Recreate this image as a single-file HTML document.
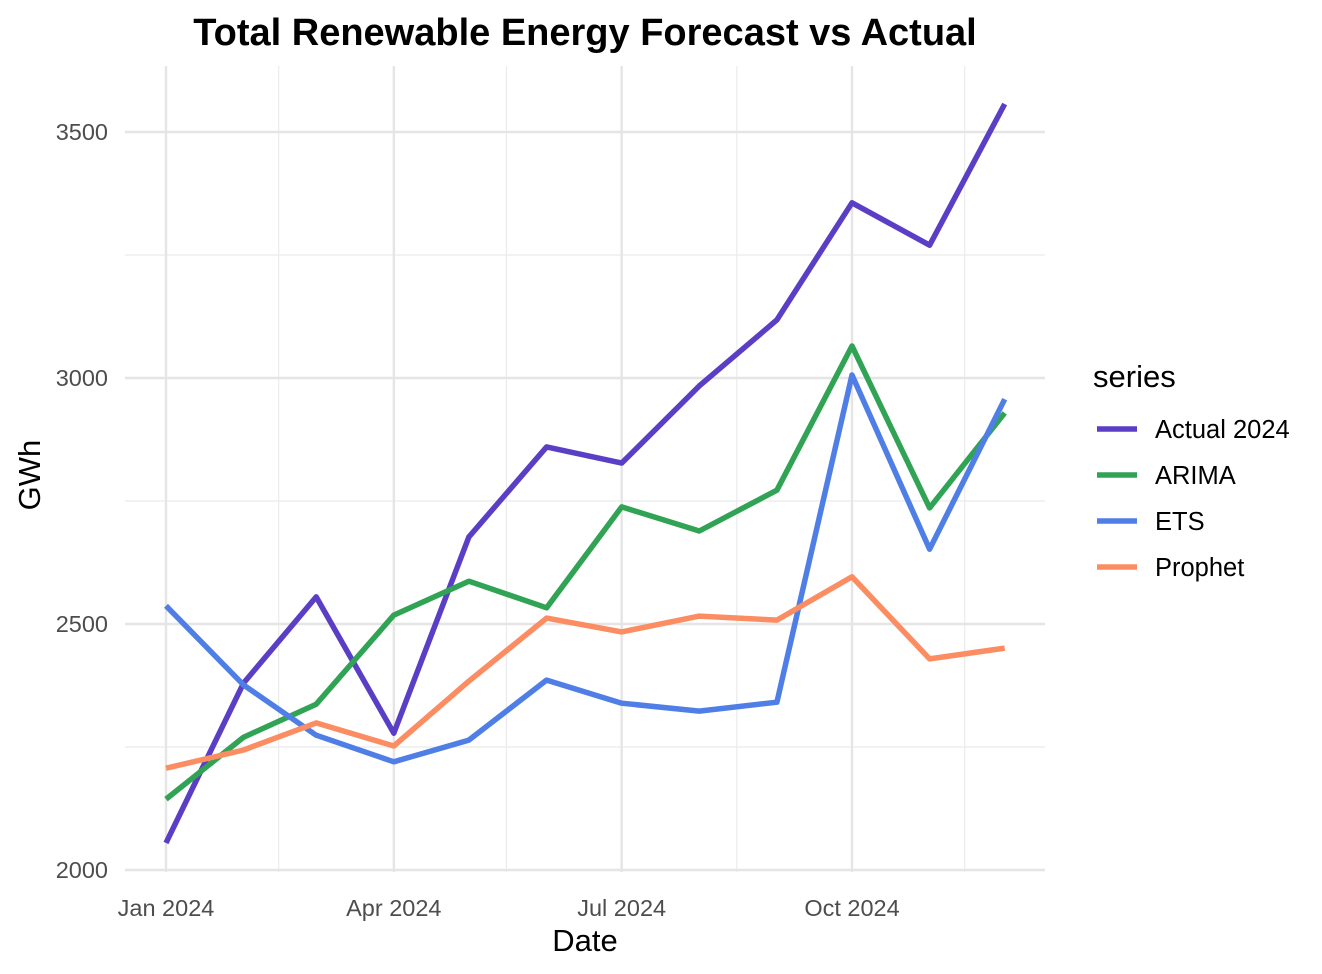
<!DOCTYPE html>
<html><head><meta charset="utf-8"><style>
body{margin:0;background:#fff;}
svg{display:block;font-family:"Liberation Sans",Arial,sans-serif;}
</style></head><body>
<svg id="chart" width="1322" height="974" viewBox="0 0 1322 974">
<text x="585" y="45" text-anchor="middle" font-size="38" font-weight="bold" fill="#000">Total Renewable Energy Forecast vs Actual</text>
<g id="grid"></g>
<g id="series"></g>
<g id="axes"></g>
<text x="585" y="951" text-anchor="middle" font-size="31" fill="#000">Date</text>
<text x="40" y="475" text-anchor="middle" font-size="31" fill="#000" transform="rotate(-90 40 475)">GWh</text>
<g id="legend"></g>
</svg>
<script>
const months = ["2024-01-01","2024-02-01","2024-03-01","2024-04-01","2024-05-01","2024-06-01","2024-07-01","2024-08-01","2024-09-01","2024-10-01","2024-11-01","2024-12-01"];
const seriesNames = ["Actual 2024","ARIMA","ETS","Prophet"];
const actual = [2055,2380,2555,2278,2677,2860,2827,2984,3118,3356,3270,3557];
const arima = [2144,2270,2337,2518,2587,2533,2738,2689,2772,3065,2736,2929];
const ets = [2537,2376,2274,2220,2264,2386,2339,2323,2341,3006,2652,2957];
const prophet = [2207,2244,2299,2252,2384,2512,2484,2516,2508,2596,2429,2451];
const yTicks = [2000,2500,3000,3500];
const yMinor = [2250,2750,3250];
const xTickDates = ["2024-01-01","2024-04-01","2024-07-01","2024-10-01"];
const xTickLabels = ["Jan 2024","Apr 2024","Jul 2024","Oct 2024"];
const xMinorDates = ["2024-02-15","2024-05-16","2024-08-16","2024-11-15"];

const colors = ["#5a3fc6","#31a354","#4f7fe6","#fc8d62"];
const NS = "http://www.w3.org/2000/svg";
const t0 = Date.parse("2024-01-01");
const dayPx = 686/274;
function xs(d){return 166 + (Date.parse(d)-t0)/86400000*dayPx;}
function ys(v){return 870 - (v-2000)*0.492;}
function mk(tag, attrs, parent){const e=document.createElementNS(NS,tag);for(const k in attrs)e.setAttribute(k,attrs[k]);parent.appendChild(e);return e;}
const grid=document.getElementById('grid'), axes=document.getElementById('axes'), sg=document.getElementById('series'), lg=document.getElementById('legend');
const L=125,R=1045,T=66,B=872;
yMinor.forEach(v=>{const l=mk('line',{x1:L,x2:R,y1:ys(v),y2:ys(v),stroke:'#ebebeb','stroke-width':1.2},grid);

});
xMinorDates.forEach(d=>{const l=mk('line',{x1:xs(d),x2:xs(d),y1:T,y2:B,stroke:'#ebebeb','stroke-width':1.2},grid);

});
yTicks.forEach(v=>{const l=mk('line',{x1:L,x2:R,y1:ys(v),y2:ys(v),stroke:'#e5e5e5','stroke-width':2.4},grid);


const t=mk('text',{x:108,y:ys(v)+8,'text-anchor':'end','font-size':23.5,fill:'#4d4d4d'},axes);t.textContent=v;

});
xTickDates.forEach((d,i)=>{const l=mk('line',{x1:xs(d),x2:xs(d),y1:T,y2:B,stroke:'#e5e5e5','stroke-width':2.4},grid);


const t=mk('text',{x:xs(d),y:916,'text-anchor':'middle','font-size':23.5,fill:'#4d4d4d'},axes);t.textContent=xTickLabels[i];

});
[actual,arima,ets,prophet].forEach((vals,si)=>{
 const pts=vals.map((v,i)=>xs(months[i]).toFixed(1)+','+ys(v).toFixed(1)).join(' ');
 const p=mk('polyline',{points:pts,fill:'none',stroke:colors[si],'stroke-width':5.5,'stroke-linejoin':'round'},sg);
 
 
});
const lt=mk('text',{x:1093,y:387,'font-size':31,fill:'#000'},lg);lt.textContent='series';


seriesNames.forEach((n,i)=>{const y=429+i*46;
 const g=mk('g',{},lg);
 
 
 mk('line',{x1:1097,x2:1137,y1:y,y2:y,stroke:colors[i],'stroke-width':5.5},g);
 const t=mk('text',{x:1155,y:y+9,'font-size':25.5,fill:'#000'},g);t.textContent=n;
});
</script>
</body></html>
